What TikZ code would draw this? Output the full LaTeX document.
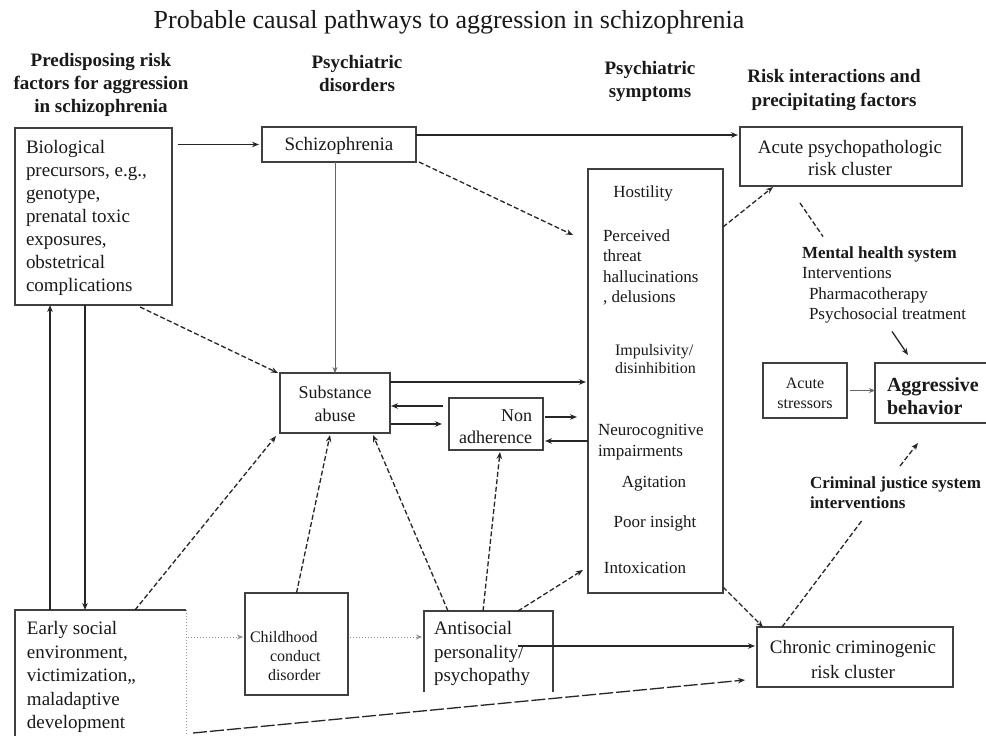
\documentclass[tikz,border=0pt]{standalone}
\usepackage{fontspec}
\setmainfont{Liberation Serif}
\usetikzlibrary{arrows.meta,calc}
\newcommand\fsz[2]{\fontsize{#1}{#2}\selectfont}
\begin{document}
\begin{tikzpicture}[x=1pt,y=-1pt,
  box/.style={draw=black!75,line width=1.5pt,inner sep=0pt,outer sep=0pt,anchor=north west},
  hollow/.style={draw=none,inner sep=0pt,outer sep=0pt,anchor=north west},
  edge/.style={draw=black!75,line width=1.5pt},
  arr/.style={draw=black!85,line width=1.3pt,-{Stealth[length=7pt,width=5.5pt]}},
  thinarr/.style={draw=black!60,line width=0.9pt,-{Stealth[length=6pt,width=5pt]}},
  darr/.style={arr,dash pattern=on 5pt off 2.5pt},
  longdarr/.style={arr,dash pattern=on 14pt off 3pt},
  dline/.style={draw=black!85,line width=1.3pt,dash pattern=on 5pt off 2.5pt},
  dotarr/.style={draw=black!45,line width=1pt,dash pattern=on 1pt off 2pt,-{Stealth[length=6pt,width=5pt]}},
  txt/.style={inner sep=0pt,outer sep=0pt,text=black!90},
]
\path[use as bounding box,fill=white] (0,0) rectangle (986,736);
\clip (0,0) rectangle (986,736);

% title and headers
\node[txt,font=\fsz{26}{30}] (title) at (449,22) {Probable causal pathways to aggression in schizophrenia};
\node[txt,align=center,font=\bfseries\fsz{19}{23}] (hdrA) at (101,85) {Predisposing risk\\factors for aggression\\in schizophrenia};
\node[txt,align=center,font=\bfseries\fsz{19}{23}] (hdrB) at (357,73.5) {Psychiatric\\disorders};
\node[txt,align=center,font=\bfseries\fsz{19}{23}] (hdrC) at (650,81.5) {Psychiatric\\symptoms};
\node[txt,align=center,font=\bfseries\fsz{19}{24}] (hdrD) at (834,90) {Risk interactions and\\precipitating factors};

% boxes
\node[box,minimum width=157pt,minimum height=177pt] (bio) at (15,128) {};
\node[box,minimum width=154pt,minimum height=35pt] (schiz) at (262,127) {};
\node[box,minimum width=222pt,minimum height=59pt] (acute) at (740,127) {};
\node[box,minimum width=135pt,minimum height=424pt] (symp) at (588,169) {};
\node[box,minimum width=110pt,minimum height=60pt] (subst) at (280,373) {};
\node[box,minimum width=94pt,minimum height=52pt] (nonadh) at (449,398) {};
\node[box,minimum width=84pt,minimum height=55pt] (stress) at (763,363) {};
\node[box,minimum width=115pt,minimum height=60pt] (aggr) at (875,363) {};
\node[box,minimum width=196pt,minimum height=60pt] (chronic) at (757,627) {};
\node[box,minimum width=103pt,minimum height=102pt] (child) at (245,593) {};
\node[hollow,minimum width=171pt,minimum height=140pt] (early) at (15,610) {};
\node[hollow,minimum width=129pt,minimum height=81pt] (anti) at (424,611) {};
\draw[edge] (early.south west) -- (early.north west) -- (early.north east);
\draw[draw=black!40,line width=1pt,dash pattern=on 1pt off 2pt] (early.north east) -- (early.south east);
\draw[edge] (anti.south west) -- (anti.north west) -- (anti.north east) -- (anti.south east);

% box texts
\node[txt,anchor=west,align=left,font=\fsz{19}{23}] (biotxt) at (26,217.5) {Biological\\precursors, e.g.,\\genotype,\\prenatal toxic\\exposures,\\obstetrical\\complications};
\node[txt,font=\fsz{19}{23}] (schiztxt) at (339,146) {Schizophrenia};
\node[txt,align=center,font=\fsz{19}{21}] (acutetxt) at (850,158) {Acute psychopathologic\\risk cluster};
\node[txt,font=\fsz{17}{20}] (s1) at (643,193) {Hostility};
\node[txt,anchor=west,align=left,font=\fsz{17}{20.3}] (s2) at (603,267.5) {Perceived\\threat\\hallucinations\\, delusions};
\node[txt,anchor=west,align=left,font=\fsz{16}{18}] (s3) at (615,359) {Impulsivity/\\disinhibition};
\node[txt,anchor=west,align=left,font=\fsz{17}{21}] (s4) at (598,442.5) {Neurocognitive\\impairments};
\node[txt,font=\fsz{17}{20}] (s5) at (654,484) {Agitation};
\node[txt,font=\fsz{17}{20}] (s6) at (655,523) {Poor insight};
\node[txt,font=\fsz{17}{20}] (s7) at (645,568) {Intoxication};
\node[txt,align=center,font=\fsz{18}{23}] (substtxt) at (335,403.5) {Substance\\abuse};
\node[txt,anchor=east,align=right,font=\fsz{18}{22}] (natxt) at (532,427) {Non\\adherence};
\node[txt,align=center,font=\fsz{16}{20}] (stresstxt) at (805,393) {Acute\\stressors};
\node[txt,anchor=west,align=left,font=\bfseries\fsz{20}{23}] (aggrtxt) at (887,396.5) {Aggressive\\behavior};
\node[txt,anchor=north west,align=left,font=\fsz{17}{20.5}] (mh) at (802,246.5) {\textbf{Mental health system}\\Interventions\\\hspace*{7pt}Pharmacotherapy\\\hspace*{7pt}Psychosocial treatment};
\node[txt,anchor=north west,align=left,font=\bfseries\fsz{17}{19.5}] (cj) at (810,477) {Criminal justice system\\interventions};
\node[txt,align=center,font=\fsz{19}{25}] (chrtxt) at (853,659.5) {Chronic criminogenic\\risk cluster};
\node[txt,anchor=west,align=left,font=\fsz{16}{19}] (childtxt) at (250,656) {Childhood\\\hspace*{20pt}conduct\\\hspace*{18pt}disorder};
\node[txt,anchor=west,align=left,font=\fsz{19}{23.5}] (earlytxt) at (27,677) {Early social\\environment,\\victimization,,\\maladaptive\\development};
\node[txt,anchor=west,align=left,font=\fsz{19}{23.5}] (antitxt) at (434,653.5) {Antisocial\\personality/\\psychopathy};

% connectors
\draw[arr,shorten >=3pt] (bio.east |- schiz.west) ++(6,0) -- (schiz.west);
\draw[arr] ([yshift=-8pt]schiz.north east) -- ([yshift=-8pt,xshift=-2pt]acute.north west);
\draw[darr] ([xshift=3pt]schiz.south east) -- ([xshift=-15pt,yshift=-66pt]symp.north west);
\draw[thinarr] (subst.north |- schiz.south) -- (subst.north);
\draw[darr] ([xshift=-32pt,yshift=-2pt]bio.south east) -- ([xshift=-2pt]subst.north west);
\draw[arr] ([xshift=35pt]early.north west) -- ([xshift=35pt]bio.south west);
\draw[arr] ([xshift=70pt]bio.south west) -- ([xshift=70pt]early.north west);
\draw[darr] ([xshift=120pt]early.north west) -- ([xshift=-4pt,yshift=-3pt]subst.south west);
\draw[dotarr] (early.north east |- child.west) ++(2,-7) -- ([xshift=-2pt,yshift=7pt]child.west);
\draw[dotarr] ([xshift=2pt,yshift=7pt]child.east) -- ([xshift=-2pt,yshift=-26pt]anti.north west);
\draw[darr] (child.north) -- ([xshift=-5pt,yshift=-2pt]subst.south);
\draw[darr] ([xshift=24pt]anti.north west) -- ([xshift=-17pt,yshift=-2pt]subst.south east);
\draw[darr] ([xshift=59pt]anti.north west) -- ([xshift=4pt,yshift=-2pt]nonadh.south);
\draw[darr] ([xshift=94pt]anti.north west) -- ([xshift=-5pt,yshift=23pt]symp.south west);
\draw[arr] ([xshift=94pt,yshift=-35pt]anti.north west) -- ([xshift=-2pt,yshift=-19pt]chronic.north west);
\draw[longdarr] ([xshift=7pt,yshift=-123pt]early.north east) -- ([xshift=-12pt,yshift=7pt]chronic.south west);
\draw[arr] ([yshift=-9pt]subst.north east) -- ([xshift=-2pt,yshift=-213pt]symp.north west);
\draw[arr] ([xshift=-6pt,yshift=-8pt]nonadh.north west) -- ([xshift=1pt,yshift=-33pt]subst.north east);
\draw[arr] ([xshift=1pt,yshift=9pt]subst.south east) -- ([xshift=-7pt,yshift=-26pt]nonadh.north west);
\draw[arr] ([xshift=2pt,yshift=-19pt]nonadh.north east) -- ([xshift=-11pt,yshift=-248pt]symp.north west);
\draw[arr] ([yshift=-272pt]symp.north west) -- ([xshift=2pt,yshift=-43pt]nonadh.north east);
\draw[darr] ([yshift=-58pt]symp.north east) -- ([xshift=33pt,yshift=-1pt]acute.south west);
\draw[darr] ([yshift=6pt]symp.south east) -- ([xshift=6pt]chronic.north west);
\draw[dline] ([xshift=60pt,yshift=-17pt]acute.south west) -- ([xshift=21pt,yshift=10pt]mh.north west);
\draw[arr] ([xshift=90pt,yshift=-8pt]mh.south west) -- ([xshift=33pt,yshift=8pt]aggr.north west);
\draw[thinarr] (stress.east) ++(3,0) -- (stress.east -| aggr.west);
\draw[darr] ([xshift=90pt,yshift=11pt]cj.north west) -- ([xshift=43pt,yshift=-20pt]aggr.south west);
\draw[dline] ([xshift=25pt]chronic.north west) -- ([xshift=52pt,yshift=-12pt]cj.south west);
\end{tikzpicture}
\end{document}
